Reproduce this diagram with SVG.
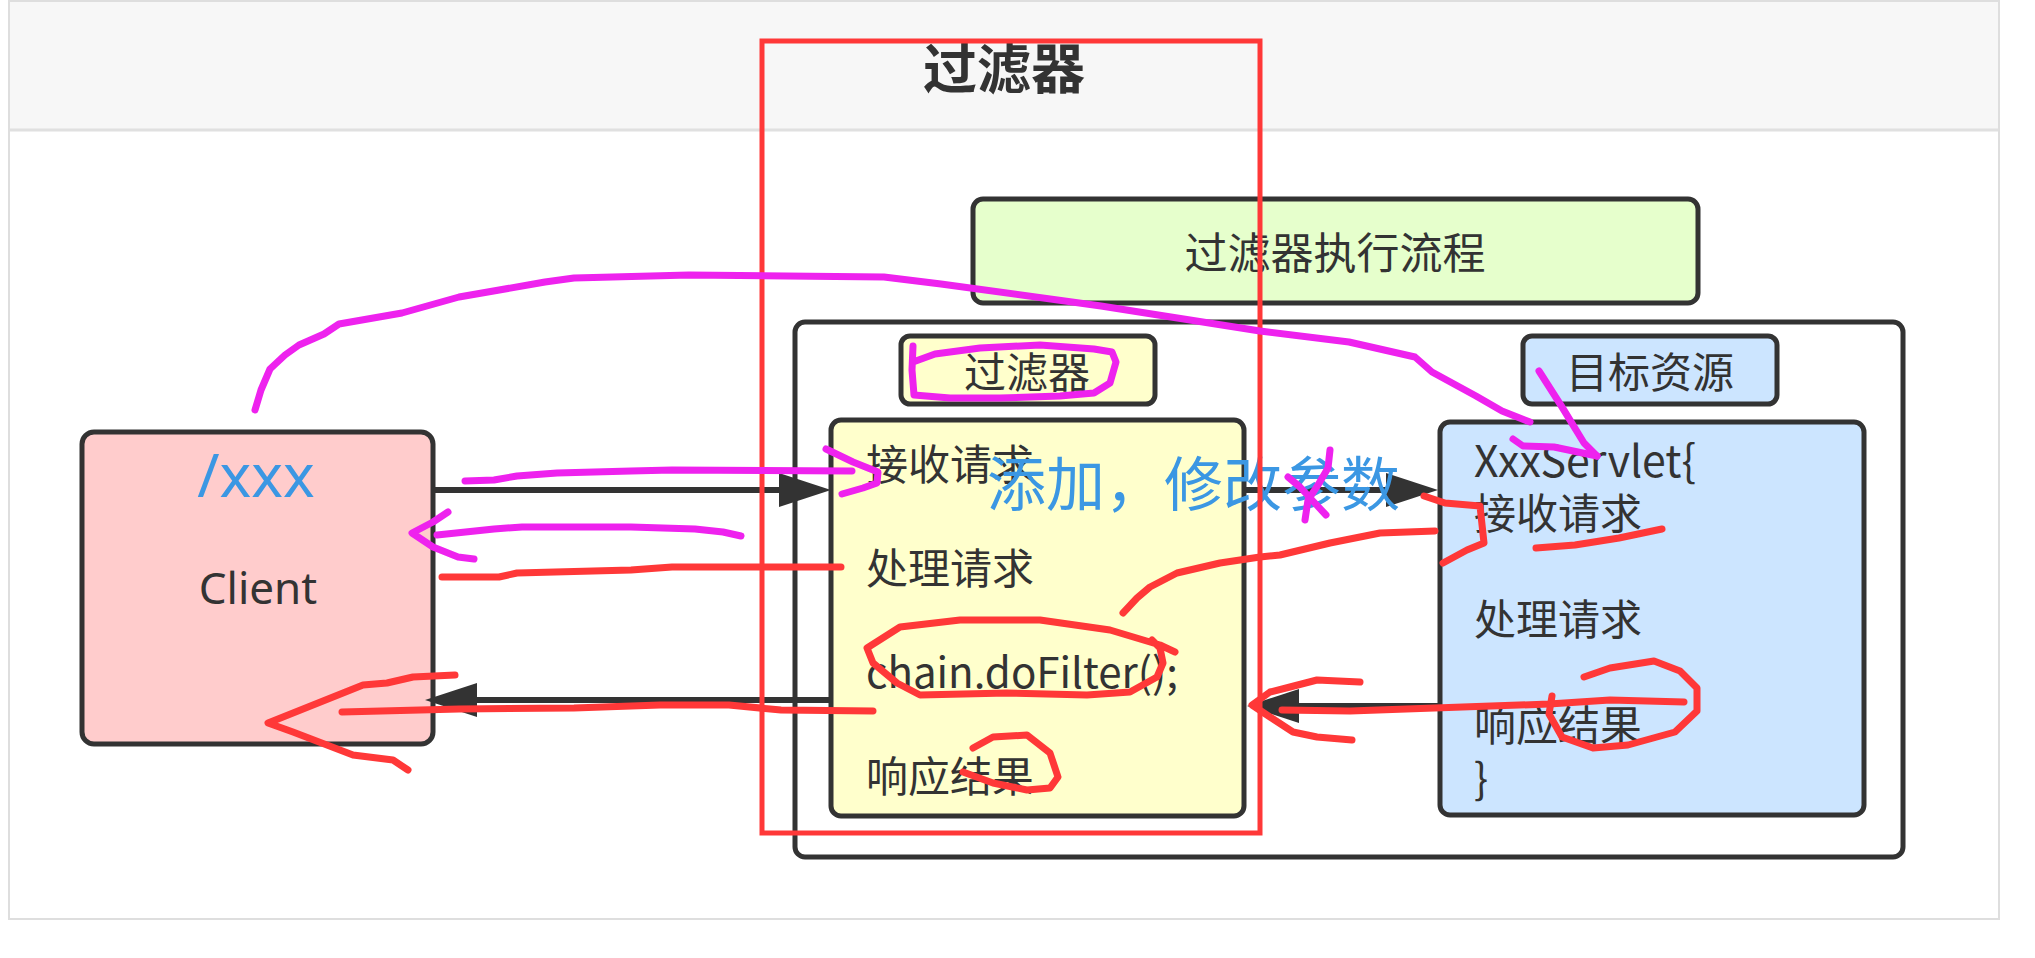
<svg xmlns="http://www.w3.org/2000/svg" width="2035" height="958" viewBox="0 0 2035 958">
<defs>
<style>
.bx{stroke:#333;stroke-width:5}
.t{font-family:"Noto Sans CJK SC","Noto Sans",sans-serif;fill:#333;font-size:42px}
.c{font-family:"Noto Sans","Noto Sans CJK SC",sans-serif;fill:#333}
.blue{fill:#3b97e3}
.conn{stroke:#333;stroke-width:6;fill:none}
.mg{stroke:#ee22ee;stroke-width:7;fill:none;stroke-linecap:round;stroke-linejoin:round}
.rd{stroke:#ff3838;stroke-width:7;fill:none;stroke-linecap:round;stroke-linejoin:round}
</style>
<marker id="ah" markerUnits="userSpaceOnUse" markerWidth="54" markerHeight="36" refX="0" refY="17" orient="auto">
<path d="M0,0 L52,17 L0,34 z" fill="#333"/>
</marker>
</defs>
<rect x="0" y="0" width="2035" height="958" fill="#fff"/>
<g id="page">
<rect x="9" y="1" width="1990" height="918" fill="#fff" stroke="#dedede" stroke-width="2"/>
<rect x="10" y="2" width="1988" height="127" fill="#f7f7f7"/>
<line x1="10" y1="130" x2="1998" y2="130" stroke="#e0e0e0" stroke-width="3"/>
<text x="1004" y="89" text-anchor="middle" style="font-family:'Noto Sans CJK SC',sans-serif;font-size:54px;font-weight:bold;fill:#333">过滤器</text>
</g>
<g id="title-box">
<rect class="bx" x="973" y="199" width="725" height="104" rx="10" fill="#e6ffcc"/>
<text class="t" x="1335" y="269" text-anchor="middle" style="font-size:43px">过滤器执行流程</text>
</g>
<g id="container">
<rect class="bx" x="795" y="322" width="1108" height="535" rx="10" fill="#fff"/>
</g>
<g id="client">
<rect class="bx" x="82" y="432" width="351" height="312" rx="12" fill="#ffcccc"/>
<text class="c blue" x="256" y="497" text-anchor="middle" style="font-size:60px">/xxx</text>
<text class="c" x="258" y="604" text-anchor="middle" style="font-size:44px">Client</text>
</g>
<g id="filter-label">
<rect class="bx" x="901" y="336" width="254" height="68" rx="9" fill="#ffffcc"/>
<text class="t" x="1027" y="388" text-anchor="middle">过滤器</text>
</g>
<g id="target-label">
<rect class="bx" x="1523" y="336" width="254" height="68" rx="9" fill="#cce5ff"/>
<text class="t" x="1650" y="388" text-anchor="middle">目标资源</text>
</g>
<g id="filter">
<rect class="bx" x="831" y="420" width="413" height="396" rx="10" fill="#ffffcc"/>
<text class="t" x="866" y="480">接收请求</text>
<text class="t" x="866" y="584">处理请求</text>
<text class="t" x="866" y="688">chain.doFilter();</text>
<text class="t" x="866" y="792">响应结果</text>
</g>
<g id="servlet">
<rect class="bx" x="1440" y="422" width="424" height="393" rx="10" fill="#cce5ff"/>
<text class="t" x="1474" y="477" textLength="222" lengthAdjust="spacingAndGlyphs" style="font-size:44px">XxxServlet{</text>
<text class="t" x="1474" y="529">接收请求</text>
<text class="t" x="1474" y="635">处理请求</text>
<text class="t" x="1474" y="741">响应结果</text>
<text class="t" x="1474" y="794">}</text>
</g>
<g id="connectors">
<line class="conn" x1="433" y1="490" x2="779" y2="490" marker-end="url(#ah)"/>
<line class="conn" x1="1244" y1="490" x2="1386" y2="490" marker-end="url(#ah)"/>
<line class="conn" x1="1440" y1="706" x2="1299" y2="706" marker-end="url(#ah)"/>
<line class="conn" x1="831" y1="700" x2="477" y2="700" marker-end="url(#ah)"/>
</g>
<g id="note">
<text x="987" y="506" style="font-family:'Noto Sans CJK SC',sans-serif;font-size:59px;fill:#3b97e3">添加，修改参数</text>
</g>
<g id="highlight">
<rect x="762" y="41" width="498" height="792" fill="none" stroke="#ff3838" stroke-width="5"/>
</g>
<g id="marks">
<polyline class="mg" points="255,410 261,390 270,369 285,355 299,345 324,334 339,324 402,313 459,297 545,282 574,278 689,275 884,277 941,284 1101,306 1260,331 1349,342 1415,357 1432,372 1476,396 1502,411 1530,422"/>
<polyline class="mg" points="1539,371 1562,407 1584,443 1597,456"/>
<polyline class="mg" points="1513,439 1523,446 1554,447 1597,456"/>
<polyline class="mg" points="913,346 912,370 914,395 950,398 1000,398 1060,396 1094,393 1110,383 1116,362 1112,352 1094,349 1040,345 980,348 935,354 913,362"/>
<polyline class="mg" points="465,481 494,480 517,476 557,473 631,471 672,470 852,471"/>
<polyline class="mg" points="826,449 853,462 878,472 877,483 863,488 842,494"/>
<polyline class="mg" points="741,536 723,532 695,529 631,527 522,527 494,529 437,535"/>
<polyline class="mg" points="448,512 433,522 412,533 433,547 458,557 474,559"/>
<polyline class="mg" points="1330,450 1328,468 1318,485 1308,500 1305,520"/>
<polyline class="mg" points="1288,477 1300,487 1312,500 1326,515"/>
<polyline class="rd" points="841,567 746,567 672,567 631,570 517,573 499,577 442,577"/>
<polyline class="rd" points="873,711 781,710 729,705 660,705 574,708 459,709 342,712"/>
<polyline class="rd" points="455,675 413,677 387,683 363,685 268,723 293,732 353,755 393,760 408,770"/>
<polyline class="rd" points="1123,613 1137,598 1150,587 1177,573 1220,563 1260,557 1280,555 1330,543 1380,533 1435,531"/>
<polyline class="rd" points="1424,496 1445,503 1480,506 1484,543 1467,550 1443,563"/>
<polyline class="rd" points="1536,548 1575,545 1619,538 1662,529"/>
<polyline class="rd" points="1175,652 1160,645 1110,630 1040,620 960,620 900,627 867,648 873,663 897,683 920,695 1007,693 1087,695 1130,692 1157,677 1163,663 1160,648 1152,640"/>
<polyline class="rd" points="973,748 993,737 1027,735 1050,753 1058,777 1050,788 1027,790 993,783 963,772"/>
<polyline class="rd" points="1282,710 1350,711 1549,704 1610,700 1684,702"/>
<polyline class="rd" points="1360,682 1317,680 1290,687 1270,692 1252,705 1270,717 1293,732 1317,737 1352,740"/>
<polyline class="rd" points="1584,677 1610,668 1654,661 1680,671 1697,688 1697,711 1675,732 1628,745 1593,748 1562,737 1549,714 1552,696"/>
</g>
</svg>
